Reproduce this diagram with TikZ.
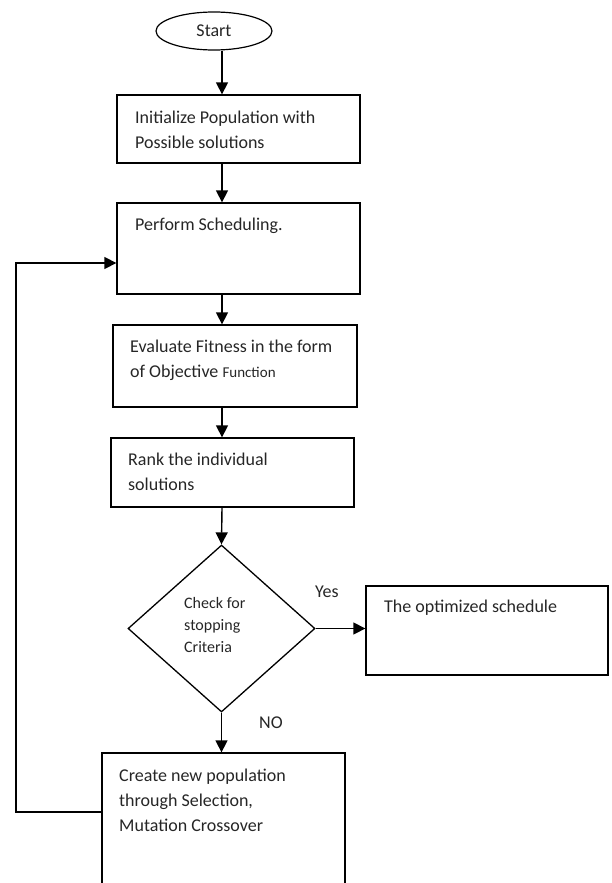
\documentclass[tikz,border=0pt]{standalone}
\usepackage{fontspec}
\setmainfont{Carlito}
\usetikzlibrary{arrows.meta,shapes.geometric,calc}

\begin{document}
\begin{tikzpicture}[x=1pt, y=-1pt,
  box/.style={draw, line width=1.3pt, minimum width=243, inner sep=0pt},
  startend/.style={draw, ellipse, line width=1.2pt, minimum width=116, minimum height=38,
                   inner sep=0pt, font=\fontsize{18}{22}\selectfont, text=black!85},
  decision/.style={draw, diamond, line width=1.3pt, minimum width=187, minimum height=167, inner sep=0pt},
  txt/.style={anchor=base west, align=left, inner sep=0pt, text=black!85,
              font=\fontsize{18}{25}\selectfont},
  small/.style={txt, font=\fontsize{16}{22}\selectfont},
  arr/.style={line width=1.4pt, -{Triangle[length=12pt, width=12pt]}}]
\useasboundingbox (0,0) rectangle (612,883);
% boxes
\node[startend] (start) at (214,31) {Start};
\node[box, minimum height=68] (init) at (238.5,129) {};
\node[box, minimum height=91] (sched) at (238.5,248.5) {};
\node[box, minimum width=244, minimum height=82] (fit) at (235,366) {};
\node[box, minimum height=69] (rank) at (232.5,472.5) {};
\node[decision] (check) at (221.5,628.5) {};
\node[box, minimum width=242, minimum height=89] (opt) at (487,630.5) {};
\node[box, minimum height=147] (newpop) at (223.5,826.5) {};
% texts (anchored on the baseline of the last line)
\node[txt] (initt) at (135,148) {Initialize Population with\\Possible solutions};
\node[txt] (schedt) at (135,230) {Perform Scheduling.};
\node[txt] (fitt) at (130,377) {Evaluate Fitness in the form\\of Objective {\fontsize{15}{25}\selectfont Function}};
\node[txt] (rankt) at (128,490) {Rank the individual\\solutions};
\node[small] (checkt) at (184,652) {Check for\\stopping\\Criteria};
\node[txt] (optt) at (384,612) {The optimized schedule};
\node[txt] (newpopt) at (119,831) {Create new population\\through Selection,\\Mutation Crossover};
\node[txt] (yes) at (315,597) {Yes};
\node[txt] (no) at (259,728) {NO};
% connectors
\coordinate (col) at (222,0);
\coordinate (loopbot) at (16,812);
\coordinate (looptop) at (16,263);
\draw[arr] (start.south -| col) -- (init.north -| col);
\draw[arr] (init.south -| col) -- (sched.north -| col);
\draw[arr] (sched.south -| col) -- (fit.north -| col);
\draw[arr] (fit.south -| col) -- (rank.north -| col);
\draw[arr] (rank.south -| col) -- (check.north);
\draw[arr] (check.east) -- (opt.west |- check.east);
\draw[arr] (check.south) -- (newpop.north -| check.south);
\draw[arr] (newpop.west |- loopbot) -- (loopbot) -- (looptop) -- (sched.west |- looptop);
\end{tikzpicture}
\end{document}
